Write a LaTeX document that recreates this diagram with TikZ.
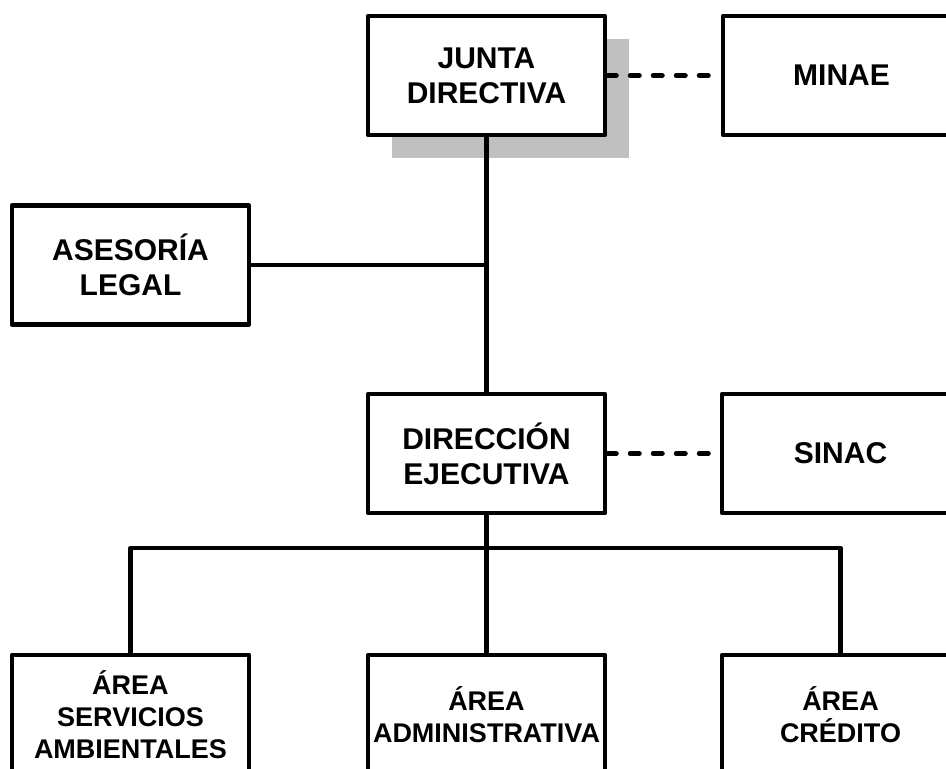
\documentclass[tikz,border=0pt]{standalone}
\usepackage{fontspec}
\setmainfont{Liberation Sans}
\usepackage{tikz}
\usetikzlibrary{shadows}

\definecolor{shadowgray}{RGB}{192,192,192}

\begin{document}
\begin{tikzpicture}[
      x=1pt, y=-1pt,
      font=\bfseries\fontsize{30}{35}\selectfont,
      box/.style={draw, line width=4.5pt, line join=round, fill=white, align=center, inner sep=0pt,
                  minimum width=237pt, minimum height=119pt},
      lowbox/.style={box, font=\bfseries\fontsize{27}{32}\selectfont},
      link/.style={line width=4.5pt},
      dashlink/.style={line width=5pt, line cap=round, dash pattern=on 9pt off 14pt}
    ]

    \useasboundingbox (0,0) rectangle (946,769);
    \clip (0,0) rectangle (946,769);

    \node[box, drop shadow={shadow xshift=24pt, shadow yshift=-23pt, fill=shadowgray, opacity=1}]
      (junta) at (486.5,75.5) {JUNTA\\DIRECTIVA};
    \node[box] (minae) at (841.5,75.5) {MINAE};

    \node[box] (asesoria) at (130.5,265) {ASESORÍA\\LEGAL};

    \node[box] (direccion) at (486.5,453.5) {DIRECCIÓN\\EJECUTIVA};
    \node[box] (sinac) at (840.5,453.5) {SINAC};

    \node[lowbox] (servicios) at (130.5,714.5) {ÁREA\\SERVICIOS\\AMBIENTALES};
    \node[lowbox] (admin) at (486.5,714.5) {ÁREA\\ADMINISTRATIVA};
    \node[lowbox] (credito) at (840.5,714.5) {ÁREA\\CRÉDITO};

    \coordinate (bus) at (486.5,548);

    \draw[link] (junta) -- (direccion);
    \draw[link] (asesoria.east) -- (asesoria.east -| junta.south);
    \draw[dashlink] (junta) -- (minae);
    \draw[dashlink] (direccion) -- (sinac);

    \draw[link] (direccion) -- (admin);
    \draw[link, line join=round] (servicios.north) |- (bus) -| (credito.north);

\end{tikzpicture}
\end{document}
